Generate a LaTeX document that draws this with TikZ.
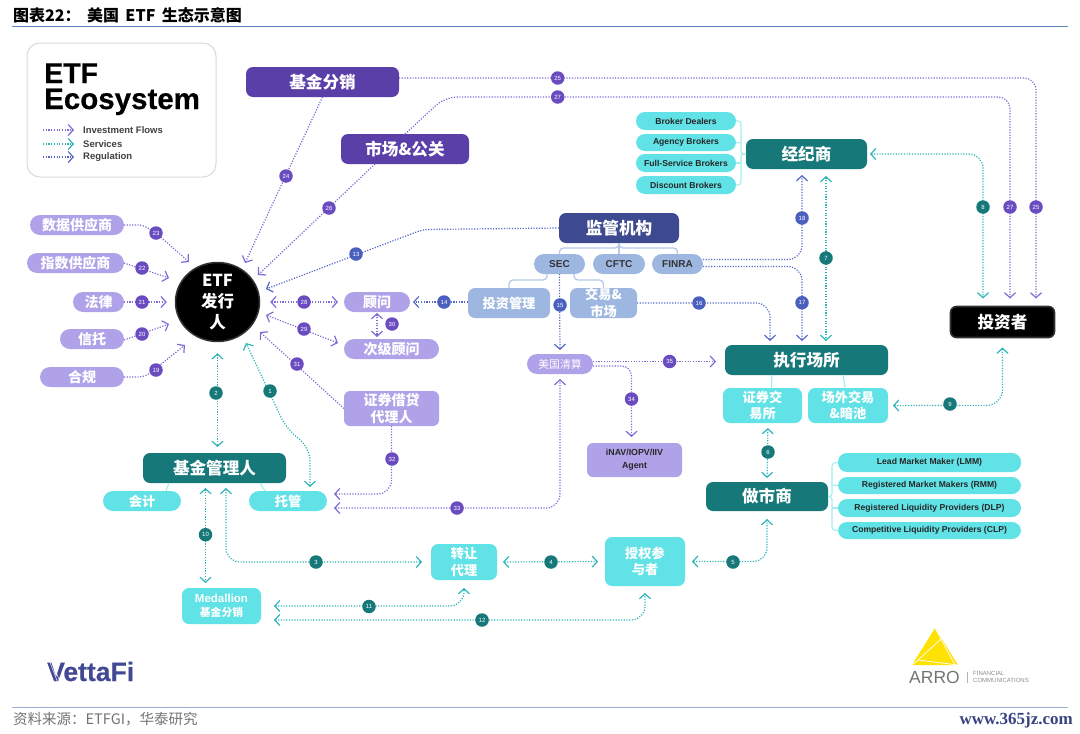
\documentclass[tikz,border=0pt]{standalone}
\usepackage{fontspec}
\setmainfont{Liberation Sans}
\newfontfamily\cjk{Noto Sans CJK SC}
\newfontfamily\serifweb{Liberation Serif}
\newfontfamily\latinf{Liberation Sans}
\newfontfamily\heavyf{Liberation Sans}[BoldFeatures={FakeBold=0.5}]
\usetikzlibrary{arrows.meta,calc,shapes.geometric}
\definecolor{dpurple}{HTML}{5B3FA8}
\definecolor{lpurple}{HTML}{B0A2E8}
\definecolor{dteal}{HTML}{17787A}
\definecolor{lteal}{HTML}{60E2E6}
\definecolor{navy}{HTML}{3E4A8F}
\definecolor{lblue}{HTML}{9DB7E0}
\definecolor{cflow}{HTML}{7F6AD8}
\definecolor{csvc}{HTML}{2DB5B8}
\definecolor{creg}{HTML}{5568C8}
\definecolor{bpurple}{HTML}{6A4CC0}
\definecolor{bblue}{HTML}{4A5FBE}
\definecolor{rule}{HTML}{5B86BE}
\newcommand\bx[7]{%
 \pgfmathsetmacro\bxx{(#3+#5)/2}\pgfmathsetmacro\bxy{(#4+#6)/2}%
 \pgfmathsetmacro\bxw{#5-#3}\pgfmathsetmacro\bxh{#6-#4}%
 \node[#1,minimum width=\bxw pt,minimum height=\bxh pt] (#2) at (\bxx,\bxy) {#7};}
\tikzset{
 x=1pt,y=-1pt,
 >={Straight Barb[length=5pt,width=11pt]},
 boxbase/.style={inner sep=0pt,outer sep=0pt,align=center,text=white},
 bigtxt/.style={font=\cjk\bfseries\fontsize{16.6}{19}\selectfont},
 midtxt/.style={font=\cjk\bfseries\fontsize{14}{17}\selectfont},
 lowtxt/.style={font=\cjk\bfseries\fontsize{13.2}{16.5}\selectfont},
 dpbox/.style={boxbase,bigtxt,fill=dpurple,rounded corners=7pt},
 dtbox/.style={boxbase,bigtxt,fill=dteal,rounded corners=7pt},
 nvbox/.style={boxbase,bigtxt,fill=navy,rounded corners=7pt},
 lppill/.style={boxbase,midtxt,fill=lpurple,rounded corners=10pt},
 lpbox/.style={boxbase,midtxt,fill=lpurple,rounded corners=6pt},
 ltpill/.style={boxbase,lowtxt,fill=lteal,rounded corners=10pt},
 ltbox/.style={boxbase,lowtxt,fill=lteal,rounded corners=7pt},
 lbbox/.style={boxbase,lowtxt,fill=lblue,rounded corners=7pt},
 lbpill/.style={boxbase,font=\bfseries\fontsize{10}{12}\selectfont,text=black!80,fill=lblue,rounded corners=10pt},
 smpill/.style={boxbase,font=\bfseries\fontsize{8.6}{10}\selectfont,text=black!85,fill=lteal,rounded corners=9pt},
 flow/.style={draw=cflow,line width=1.2pt,dash pattern=on 1.2pt off 1.5pt},
 svc/.style={draw=csvc,line width=1.2pt,dash pattern=on 1.2pt off 1.5pt},
 reg/.style={draw=creg,line width=1.2pt,dash pattern=on 1.2pt off 1.5pt},
 cytree/.style={draw=lteal!60,line width=1.1pt,rounded corners=3pt},
 bltree/.style={draw=lblue!75,line width=1.3pt,rounded corners=4pt},
 badge/.style={circle,inner sep=0pt,minimum size=13.5pt,text=white,font=\fontsize{6}{6}\selectfont},
 bp/.style={badge,fill=bpurple},
 bt/.style={badge,fill=dteal},
 bb/.style={badge,fill=bblue},
}
\begin{document}
\begin{tikzpicture}
\useasboundingbox (0,0) rectangle (1080,734);
% header and footer
\draw[rule,line width=.9pt] (12,26) -- (1068,26);
\draw[rule!65,line width=.9pt] (12,707) -- (1068,707);
\node[anchor=base west,inner sep=0pt,font=\cjk\bfseries\fontsize{16}{18}\selectfont] (title) at (13,21) {图表22：\hspace{.4em}美国\hspace{.4em}ETF\hspace{.4em}生态示意图};
\node[anchor=base west,inner sep=0pt,text=black!55,font=\cjk\fontsize{14.5}{17}\selectfont] (source) at (13,724) {资料来源：ETFGI，华泰研究};
\node[anchor=base east,inner sep=0pt,text=navy!90!black,font=\serifweb\bfseries\fontsize{17}{19}\selectfont] (web) at (1073,724) {www.365jz.com};
% legend
\draw[draw=black!15,line width=1pt,fill=white,rounded corners=13pt] (27,43) rectangle (216,177);
\node[anchor=base west,inner sep=0pt,text depth=0pt,text height=20pt,font=\heavyf\bfseries\fontsize{28.5}{30}\selectfont] (leg1) at (44,83) {ETF};
\node[anchor=base west,inner sep=0pt,text height=21pt,font=\heavyf\bfseries\fontsize{29.5}{30}\selectfont] (leg2) at (44,109) {Ecosystem};
\foreach \yy/\st/\tx/\nm in {130/flow/Investment Flows/la,144/svc/Services/lb,157/reg/Regulation/lc}{
 \node[anchor=west,inner sep=0pt,text=black!75,font=\bfseries\fontsize{9.5}{11}\selectfont] (\nm) at (83,\yy) {\tx};
 \coordinate (\nm s) at (43,\yy);
 \draw[\st,->] (\nm s) -- ++(31,0);
}
% purple top
\bx{dpbox}{fenxiao}{246}{67}{399}{97}{基金分销}
\bx{dpbox}{gongguan}{341}{134}{469}{164}{市场\&公关}
% ETF issuer
\node[ellipse,draw=black!80,line width=1.5pt,fill=black,minimum width=84pt,minimum height=76pt,inner sep=0pt,text=white,align=center,font=\cjk\bfseries\fontsize{16.5}{21}\selectfont] (etf) at (217.5,302) {ETF\\发行\\人};
% left
\bx{lppill}{shuju}{30}{215}{124}{235}{数据供应商}
\bx{lppill}{zhishu}{27}{253}{124}{273}{指数供应商}
\bx{lppill}{falv}{73}{292}{124}{312}{法律}
\bx{lppill}{xintuo}{60}{329}{124}{349}{信托}
\bx{lppill}{hegui}{40}{367}{124}{387}{合规}
% right of ETF
\bx{lppill}{guwen}{344}{292}{410}{312}{顾问}
\bx{lppill}{ciji}{344}{339}{439}{359}{次级顾问}
\bx{lpbox}{jiedai}{344}{391}{439}{426}{证券借贷\\代理人}
% regulators
\bx{nvbox}{jianguan}{559}{213}{679}{243}{监管机构}
\bx{lbpill}{sec}{534}{254}{585}{274}{SEC}
\bx{lbpill}{cftc}{593}{254}{645}{274}{CFTC}
\bx{lbpill}{finra}{652}{254}{703}{274}{FINRA}
\bx{lbbox}{touzi}{468}{288}{550}{318}{投资管理}
\bx{lbbox}{jiaoyi}{570}{288}{637}{318}{交易\&\\市场}
\bx{lppill,font=\cjk\fontsize{10.8}{12}\selectfont}{qingsuan}{527}{354}{593}{374}{美国清算}
\bx{lpbox,text=black!85,font=\bfseries\fontsize{8.8}{13}\selectfont}{inav}{587}{443}{682}{477}{iNAV/IOPV/IIV\\Agent}
% brokers
\bx{dtbox}{jingji}{746}{139}{867}{169}{经纪商}
\bx{smpill}{bd}{636}{112}{736}{130}{Broker Dealers}
\bx{smpill}{ab}{636}{134}{736}{151}{Agency Brokers}
\bx{smpill}{fs}{636}{154}{736}{172}{Full-Service Brokers}
\bx{smpill}{db}{636}{176}{736}{194}{Discount Brokers}
% venues
\bx{dtbox}{zhixing}{725}{345}{888}{375}{执行场所}
\bx{ltbox}{zhengquan}{723}{388}{802}{423}{证券交\\易所}
\bx{ltbox}{changwai}{808}{388}{888}{423}{场外交易\\\&暗池}
\bx{dtbox}{zuoshi}{706}{482}{828}{511}{做市商}
\bx{smpill}{lmm}{838}{453}{1021}{472}{Lead Market Maker (LMM)}
\bx{smpill}{rmm}{838}{477}{1021}{494}{Registered Market Makers (RMM)}
\bx{smpill}{dlp}{838}{499}{1021}{517}{Registered Liquidity Providers (DLP)}
\bx{smpill}{clp}{838}{522}{1021}{539}{Competitive Liquidity Providers (CLP)}
\node[boxbase,bigtxt,fill=black,draw=black!80,line width=1.6pt,rounded corners=6pt,minimum width=104pt,minimum height=31pt] (touzizhe) at (1002.5,322) {投资者};
% bottom
\bx{dtbox}{guanli}{143}{453}{286}{483}{基金管理人}
\bx{ltpill}{kuaiji}{103}{491}{181}{511}{会计}
\bx{ltpill}{tuoguan}{249}{491}{327}{511}{托管}
\bx{ltbox,font=\cjk\bfseries\fontsize{10.8}{13.5}\selectfont}{medallion}{182}{588}{261}{624}{{\latinf\bfseries\fontsize{11.5}{13.5}\selectfont Medallion}\\基金分销}
\bx{ltbox}{zhuanrang}{431}{544}{497}{580}{转让\\代理}
\bx{ltbox}{shouquan}{605}{537}{685}{586}{授权参\\与者}
% logos
\node[anchor=base west,inner sep=0pt,text=navy!85!dpurple,font=\heavyf\bfseries\fontsize{26.5}{28}\selectfont] (vetta) at (47,681) {VettaFi};
\draw[white,line width=.45pt] (49.5,661) -- (57.5,682) (52,661) -- (60,682);
\fill[yellow!85!orange] (935,628) -- (912,665) -- (958,665) -- cycle;
\draw[white,line width=.7pt] (935,628) -- (955,665) (941,639) -- (918,660) -- (958,665) (918,660) -- (912,665);
\node[anchor=base west,inner sep=0pt,text=black!55,font=\fontsize{17.5}{18}\selectfont] (arro) at (909,683) {ARRO};
\draw[black!30,line width=.5pt] (967,672) -- (967,683);
\node[anchor=base west,inner sep=0pt,text=black!45,font=\fontsize{6}{6}\selectfont] (fin) at (973,675) {FINANCIAL};
\node[anchor=base west,inner sep=0pt,text=black!45,font=\fontsize{6}{6}\selectfont] (com) at (973,682) {COMMUNICATIONS};
% trees
\draw[cytree] (bd.east) -- (741,121) -- (741,154) -- (jingji.west);
\draw[cytree] (db.east) -- (741,185) -- (741,154) -- (jingji.west);
\draw[cytree] (ab.east) -- (741,143);
\draw[cytree] (fs.east) -- (741,163);
\draw[cytree] (lmm.west) -- (832,463) -- (832,496.5) -- (zuoshi.east);
\draw[cytree] (clp.west) -- (832,530) -- (832,496.5) -- (zuoshi.east);
\draw[cytree] (rmm.west) -- (832,485);
\draw[cytree] (dlp.west) -- (832,508);
\draw[cytree] ([xshift=-34.5pt]zhixing.south) -- ([xshift=9pt]zhengquan.north);
\draw[cytree] ([xshift=36.5pt]zhixing.south) -- ([xshift=-3pt]changwai.north);
\draw[cytree] ([xshift=-45.5pt]guanli.south) -- ([xshift=24pt]kuaiji.north);
\draw[cytree] ([xshift=45.5pt]guanli.south) -- ([xshift=-23pt]tuoguan.north);
\draw[bltree] (jianguan.south) -- (619,248) -- (559.5,248) -- (sec.north);
\draw[bltree] (jianguan.south) -- (619,248) -- (677.5,248) -- (finra.north);
\draw[bltree] (jianguan.south) -- (cftc.north);
\draw[bltree] ([xshift=-12.5pt]sec.south) -- (547,280) -- (509,280) -- (touzi.north);
\draw[bltree] ([xshift=14.5pt]sec.south) -- (574,280) -- (603.5,280) -- (jiaoyi.north);
% free ends
\coordinate (t23) at (189,262); \coordinate (t22) at (169,278); \coordinate (t20) at (169,324); \coordinate (t19) at (185,345);
\coordinate (t24) at (245,263); \coordinate (t26) at (258,275); \coordinate (t13) at (266,289);
\coordinate (t29a) at (266,315); \coordinate (t29b) at (338,343); \coordinate (t31) at (260,332); \coordinate (t1) at (246,343);
\coordinate (t35) at (716,361.5);
% flows
\draw[flow,->,rounded corners=5pt] (shuju.east) -- (143,225) -- (156,233) -- (t23);
\draw[flow,->] (zhishu.east) -- (t22);
\draw[flow,->,shorten >=8pt] (falv.east) -- (etf.west);
\draw[flow,->] ([yshift=-1pt]xintuo.east) -- (t20);
\draw[flow,->,rounded corners=6pt] (hegui.east) -- (145,377) -- (t19);
\draw[flow,->] (fenxiao.south) -- (t24);
\draw[flow,->] ([xshift=-30pt]gongguan.south) -- (t26);
\draw[flow,->,shorten >=8pt,rounded corners=12pt] ([yshift=4pt]fenxiao.east) -- (1036,78) -- ([xshift=33.5pt]touzizhe.north);
\draw[flow,->,shorten >=8pt,rounded corners=12pt] (gongguan.north) -- (445,97) -- (1010,97) -- ([xshift=7.5pt]touzizhe.north);
\draw[flow,<->,shorten <=10pt,shorten >=6pt] (etf.east) -- (guwen.west);
\draw[flow,<->] (t29a) -- (t29b);
\draw[flow,<->,shorten <=1pt,shorten >=2pt] (guwen.south) -- ([xshift=-14.5pt]ciji.north);
\draw[flow,->] (jiedai.west) -- (t31);
\draw[flow,->,shorten >=7pt,rounded corners=14pt] (jiedai.south) -- (391.5,494) -- ([yshift=7pt]tuoguan.east);
\draw[flow,<->,shorten <=7pt,shorten >=5pt,rounded corners=14pt] ([yshift=-7pt]tuoguan.east) -- (560,508) -- (qingsuan.south);
\draw[flow,->,shorten >=6pt,rounded corners=10pt] ([yshift=-2pt]qingsuan.east) -- (631.5,366) -- ([xshift=-3pt]inav.north);
\draw[flow,->] ([yshift=2.5pt]qingsuan.east) -- (t35);
% regulation
\draw[reg,->,rounded corners=6pt] (jianguan.west) -- (423,229.5) -- (t13);
\draw[reg,->,shorten >=3pt] (touzi.west |- guwen.east) -- (guwen.east);
\draw[reg,->,shorten >=4pt] (sec.south) -- (qingsuan.north);
\draw[reg,->,shorten >=4pt,rounded corners=14pt] (jiaoyi.east) -- (770,303) -- ([xshift=-36.5pt]zhixing.north);
\draw[reg,->,shorten >=4pt,rounded corners=14pt] ([yshift=-2.5pt]finra.east) -- (802,266.5) -- ([xshift=-4.5pt]zhixing.north);
\draw[reg,->,shorten >=6pt,rounded corners=14pt] ([yshift=4.5pt]finra.east) -- (802,259.5) -- ([xshift=-4.5pt]jingji.south);
% services
\draw[svc,<->,shorten <=4pt,rounded corners=14pt] ([xshift=22pt]tuoguan.north) -- (310,447) -- (287,430) -- (t1);
\draw[svc,<->,shorten <=11pt,shorten >=6pt] (etf.south) -- (etf.south |- guanli.north);
\draw[svc,<->,shorten <=5pt,shorten >=9pt,rounded corners=14pt] ([xshift=11.5pt]guanli.south) -- (226,562) -- (zhuanrang.west);
\draw[svc,<->,shorten <=6pt,shorten >=7pt] (zhuanrang.east) -- (shouquan.west);
\draw[svc,<->,shorten <=7pt,shorten >=8pt,rounded corners=14pt] (shouquan.east) -- (767,561.5) -- (zuoshi.south);
\draw[svc,<->,shorten <=5pt,shorten >=4pt] ([xshift=5.5pt]zhengquan.south) -- (zuoshi.north);
\draw[svc,<->,shorten <=7pt,shorten >=4pt] ([xshift=19.5pt]jingji.south) -- ([xshift=19.5pt]zhixing.north);
\draw[svc,<->,shorten <=3pt,shorten >=8pt,rounded corners=14pt] (jingji.east) -- (983,154) -- ([xshift=-19.5pt]touzizhe.north);
\draw[svc,<->,shorten <=5pt,shorten >=10pt,rounded corners=16pt] (changwai.east) -- (1002.5,405.5) -- (touzizhe.south);
\draw[svc,<->,shorten <=5pt,shorten >=5pt] ([xshift=-9pt]guanli.south) -- ([xshift=-16pt]medallion.north);
\draw[svc,<->,shorten <=13pt,shorten >=8pt,rounded corners=14pt] (medallion.east) -- (464,606) -- (zhuanrang.south);
\draw[svc,<->,shorten <=13pt,shorten >=7pt,rounded corners=14pt] ([yshift=-14pt]medallion.east) -- (645,620) -- (shouquan.south);
% badges
\foreach \st/\n/\px/\py in {
 bp/23/156/233, bp/22/142/268, bp/21/142/302, bp/20/142/334, bp/19/156/370,
 bp/24/286/176, bp/26/329/208, bp/25/557.7/78, bp/27/557.7/97, bp/27/1010/207, bp/25/1036/207,
 bp/28/304/302, bp/29/304/329, bp/30/392/324, bp/31/297/364, bp/32/392/459, bp/33/457/508, bp/34/631.5/399, bp/35/669.6/361.5,
 bb/13/356/254, bb/14/444/302, bb/15/560/305, bb/16/699/303, bb/17/802/302.7, bb/18/802/218,
 bt/1/270/391, bt/2/216/393, bt/3/316/562, bt/4/551/562, bt/5/733/562, bt/6/768/452, bt/7/826/258, bt/8/983/207, bt/9/950/404, bt/10/205.5/534.7, bt/11/369/606.5, bt/12/482/620}{
 \node[\st] (n\n-\px) at (\px,\py) {\n};
}
\end{tikzpicture}
\end{document}
